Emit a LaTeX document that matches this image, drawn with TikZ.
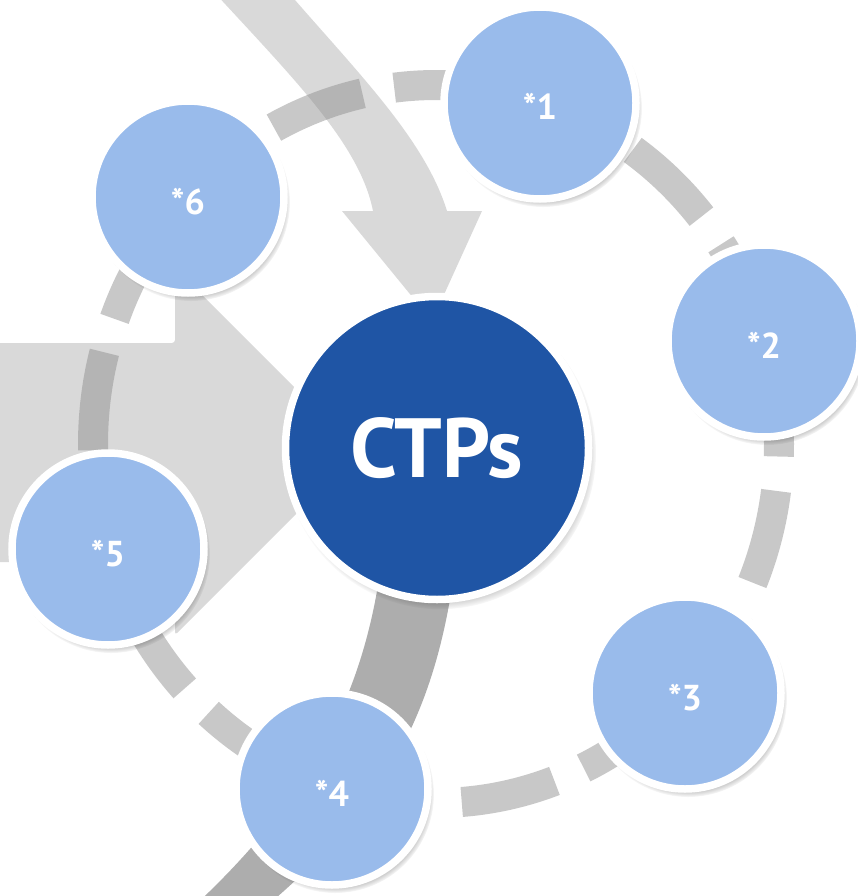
\documentclass[tikz,border=0pt]{standalone}
\usepackage{fontspec}
\setmainfont{PT Sans}
\usetikzlibrary{shadows}
\definecolor{lightblue}{HTML}{99BBEB}
\definecolor{darkblue}{HTML}{1F55A5}
\definecolor{arrowgray}{HTML}{D9D9D9}
\definecolor{bandgray}{HTML}{ADADAD}
\definecolor{ringgray}{RGB}{139,139,139}
\begin{document}
\begin{tikzpicture}[x=1pt,y=-1pt,
  softshadow/.style={circular drop shadow={shadow xshift=3pt, shadow yshift=-5pt, shadow scale=1.03, fill=black, opacity=0.5}},
  bubble/.style={circle, fill=lightblue, draw=white, line width=7.5pt, minimum size=192pt, inner sep=0pt,
    text=white, font=\bfseries\fontsize{36}{40}\selectfont, text height=34pt, text depth=0pt, softshadow},
  hub/.style={circle, fill=darkblue, draw=white, line width=7.5pt, minimum size=303pt, inner sep=0pt,
    text=white, font=\bfseries\fontsize{84}{90}\selectfont, softshadow},
  ringdash/.style={draw=ringgray, draw opacity=0.47, line width=30pt},
  bigarrow/.style={fill=arrowgray},
  darkband/.style={fill=bandgray}
]
\useasboundingbox (0,0) rectangle (857,896);

% top curved arrow
\fill[bigarrow] (214,-8) .. controls (295,80) and (360,145) .. (373,211)
  -- (342,211) -- (432,321) -- (482,211) -- (447,211)
  .. controls (425,140) and (360,75) .. (288,-8) -- cycle;

% left arrow
\fill[bigarrow, rounded corners=3pt] (-10,343) -- (175,343) -- (175,268) -- (358.5,451.5)
  -- (175,635) -- (175,562) -- (-10,562) -- cycle;

% dark band from lower left towards the hub
\fill[darkband] (384,540) .. controls (370,680) and (320,790) .. (190,910)
  -- (262,910) .. controls (380,810) and (440,720) .. (458,540) -- cycle;

% dashed ring
\foreach \a/\b in {-22.7/-7.5, -2/13.5, 18.5/33.8, 39.3/55, 60.5/76, 81.5/97, 102.4/118.2,
  123.7/139, 144.3/159.6, 165.2/181, 186.5/202, 207.5/222.9, 228.5/246, 251/268.5,
  274.3/290.2, 295.5/311, 316.5/332}
  \draw[ringdash] plot[domain=\a:\b, samples=24, smooth] ({436+343*cos(\x)},{444-359*sin(\x)});

% hub and satellites
\node[hub] (c) at (437,448) {CTPs};
\node[bubble] (n1) at (540,103) {*1};
\node[bubble] (n2) at (764,341) {*2};
\node[bubble] (n3) at (685,693) {*3};
\node[bubble] (n4) at (332,789) {*4};
\node[bubble] (n5) at (108,549) {*5};
\node[bubble] (n6) at (188,197) {*6};
\end{tikzpicture}
\end{document}
